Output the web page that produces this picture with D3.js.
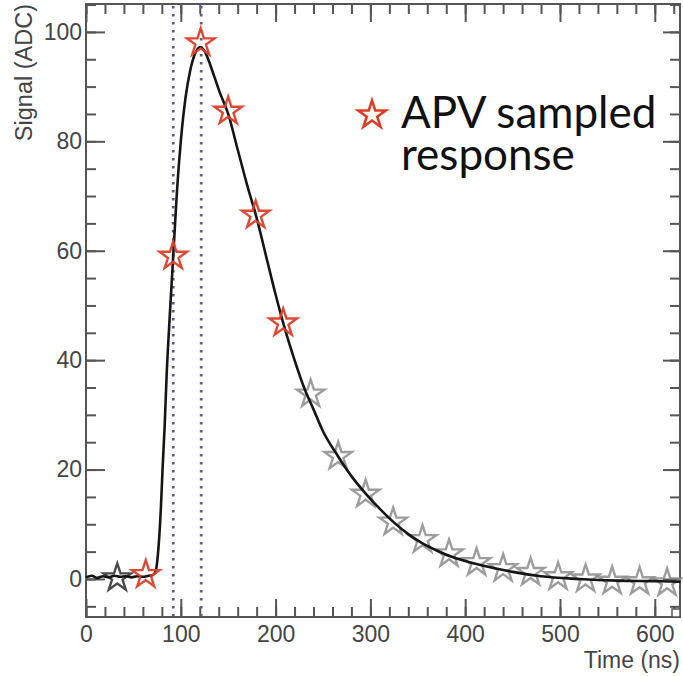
<!DOCTYPE html>
<html>
<head>
<meta charset="utf-8">
<script src="https://cdn.jsdelivr.net/npm/d3@7"></script>
<style>
  html, body { margin: 0; padding: 0; background: #fff; }
  svg { display: block; }
</style>
</head>
<body>
<svg id="chart" width="683" height="676"></svg>
<script>
// ---- data ----
const curveTime = [0, 6, 12, 18, 24, 30, 36, 42, 48, 54, 60, 66, 70, 73, 75, 77, 79, 81, 83, 85, 88, 92, 96, 100, 105, 110, 115, 120, 125, 130, 135, 141, 150, 160, 170, 180, 190, 200, 208, 220, 230, 240, 250, 266, 280, 295, 310, 325, 340, 355, 370, 385, 400, 415, 430, 450, 480, 520, 560, 600, 627];
const curveSignal = [0.3, 0.6, 0.2, 0.5, 0.3, 0.6, 0.4, 0.5, 0.3, 0.5, 0.4, 0.6, 0.7, 1.2, 3, 7, 13, 21, 28, 37, 47, 59, 71, 80, 88, 93, 96, 97.2, 96.5, 94.5, 92, 89, 85, 78.5, 72, 66, 59, 52, 46.8, 40, 35, 31, 27, 22.4, 18.8, 15.6, 12.8, 10.3, 8.2, 6.5, 5.2, 4.1, 3.3, 2.6, 2.0, 1.3, 0.5, 0.0, -0.3, -0.4, -0.5];

const redTime = [63, 92, 121, 150, 179, 208];
const redSignal = [0.8, 59, 98, 85.5, 66.5, 46.8];

const preTime = [33];
const preSignal = [0.2];

const tailTime = [237, 266, 295, 324, 355, 383, 412, 440, 469, 498, 527, 555, 584, 613];
const tailSignal = [33.8, 22.4, 15.5, 10.4, 7.2, 4.6, 3.0, 1.9, 1.2, 0.4, 0.0, -0.4, -0.5, -0.7];

const markerTimes = [92, 121.5];

const xTicks = [0, 100, 200, 300, 400, 500, 600];
const yTicks = [0, 20, 40, 60, 80, 100];

const legendLines = ["APV sampled", "response"];

// ---- layout ----
const svg = d3.select("#chart");
const L = 86, R = 680, T = 4, B = 617;
const x = d3.scaleLinear().domain([0, 626.6]).range([L, R]);
const y = d3.scaleLinear().domain([-6.95, 105.1]).range([B, T]);

const axisColor = "#555";
const fontFam = "'Liberation Sans', Arial, sans-serif";

const xMinor = d3.range(0, 627, 20);
const yMinor = d3.range(-5, 106, 5);

function styleAxis(g) {
  g.select(".domain").remove();
  g.selectAll("line").attr("stroke", axisColor).attr("stroke-width", 2);
  g.selectAll("text").attr("fill", "#444").attr("font-family", fontFam).attr("font-size", 23);
}

// bottom axis
svg.append("g").attr("transform", `translate(0,${B})`)
  .call(d3.axisBottom(x).tickValues(xMinor).tickSize(-10).tickFormat(""))
  .call(styleAxis);
svg.append("g").attr("transform", `translate(0,${B})`)
  .call(d3.axisBottom(x).tickValues(xTicks).tickSize(-18).tickPadding(9).tickFormat(d3.format("d")))
  .call(styleAxis);
// top axis
svg.append("g").attr("transform", `translate(0,${T})`)
  .call(d3.axisTop(x).tickValues(xMinor).tickSize(-10).tickFormat(""))
  .call(styleAxis);
svg.append("g").attr("transform", `translate(0,${T})`)
  .call(d3.axisTop(x).tickValues(xTicks).tickSize(-18).tickFormat(""))
  .call(styleAxis);
// left axis
svg.append("g").attr("transform", `translate(${L},0)`)
  .call(d3.axisLeft(y).tickValues(yMinor).tickSize(-10).tickFormat(""))
  .call(styleAxis);
svg.append("g").attr("transform", `translate(${L},0)`)
  .call(d3.axisLeft(y).tickValues(yTicks).tickSize(-19).tickPadding(4).tickFormat(d3.format("d")))
  .call(styleAxis);
// right axis
svg.append("g").attr("transform", `translate(${R},0)`)
  .call(d3.axisRight(y).tickValues(yMinor).tickSize(-10).tickFormat(""))
  .call(styleAxis);
svg.append("g").attr("transform", `translate(${R},0)`)
  .call(d3.axisRight(y).tickValues(yTicks).tickSize(-17).tickFormat(""))
  .call(styleAxis);

// frame
svg.append("rect").attr("x", L).attr("y", T).attr("width", R - L).attr("height", B - T)
  .attr("fill", "none").attr("stroke", axisColor).attr("stroke-width", 2);
// little box at bottom-right corner
svg.append("rect").attr("x", R - 8).attr("y", B - 8).attr("width", 8).attr("height", 8)
  .attr("fill", "#fff").attr("stroke", axisColor).attr("stroke-width", 1.5);

// dotted marker lines
svg.append("g").selectAll("line").data(markerTimes).join("line")
  .attr("x1", d => x(d)).attr("x2", d => x(d))
  .attr("y1", T + 2).attr("y2", B - 1)
  .attr("stroke", "#5d6272").attr("stroke-width", 2.8)
  .attr("stroke-dasharray", "2.6,5.4").attr("stroke-linecap", "butt");

// stars
const starPath = d3.symbol(d3.symbolStar).size(236)();
function drawStars(times, vals, stroke, opacity) {
  svg.append("g").selectAll("path").data(times.map((t, i) => [t, vals[i]])).join("path")
    .attr("d", starPath)
    .attr("transform", d => `translate(${x(d[0])},${y(d[1])})`)
    .attr("fill", "none")
    .attr("stroke", stroke).attr("stroke-width", 2.4)
    .attr("stroke-opacity", opacity)
    .attr("stroke-linejoin", "miter");
}
drawStars(tailTime, tailSignal, "#8c8c8c", 0.85);
drawStars(preTime, preSignal, "#4a4a4a", 1);

// curve
const line = d3.line().x(d => x(d[0])).y(d => y(d[1])).curve(d3.curveMonotoneX);
svg.append("path")
  .datum(curveTime.map((t, i) => [t, curveSignal[i]]))
  .attr("d", line)
  .attr("fill", "none").attr("stroke", "#151515").attr("stroke-width", 2.6);

drawStars(redTime, redSignal, "#d8402c", 0.95);

// axis titles
svg.append("text")
  .attr("transform", "translate(32,4) rotate(-90)")
  .attr("text-anchor", "end")
  .attr("font-family", fontFam).attr("font-size", 23.5).attr("fill", "#444")
  .text("Signal (ADC)");
svg.append("text")
  .attr("x", 680).attr("y", 668)
  .attr("text-anchor", "end")
  .attr("font-family", fontFam).attr("font-size", 23).attr("fill", "#444")
  .text("Time (ns)");

// legend
svg.append("path").attr("d", starPath)
  .attr("transform", `translate(372,115)`)
  .attr("fill", "#fff8ee").attr("stroke", "#d8402c").attr("stroke-width", 2.6);
svg.append("text")
  .attr("font-family", "Lato, 'Open Sans', sans-serif").attr("font-size", 44).attr("fill", "#111")
  .selectAll("tspan").data(legendLines).join("tspan")
  .attr("x", 401).attr("y", (d, i) => 128 + i * 42)
  .text(d => d);
</script>
</body>
</html>
